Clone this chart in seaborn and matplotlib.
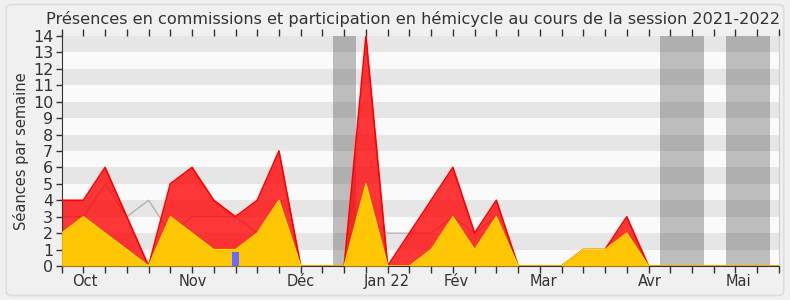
import numpy as np
import pandas as pd
import matplotlib
matplotlib.use("Agg")
import matplotlib.pyplot as plt
from matplotlib.patches import FancyBboxPatch
import seaborn as sns

# ---- data (one value per week of the session, week 0 = end of September 2021) ----
weeks = list(range(34))
hemicycle = [4, 4, 6, 3, 0, 5, 6, 4, 3, 4, 7, 0, 0, 0, 14, 0, 2, 4, 6, 2, 4, 0, 0, 0,
             1, 1, 3, 0, 0, 0, 0, 0, 0, 0]
commissions = [2, 3, 2, 1, 0, 3, 2, 1, 1, 2, 4, 0, 0, 0, 5, 0, 0, 1, 3, 1, 3, 0, 0, 0,
               1, 1, 2, 0, 0, 0, 0, 0, 0, 0]
mediane = [3, 3, 5, 3, 4, 2, 3, 3, 3, 2, 2, 0, 0, 0, 3, 2, 2, 2, 3, 2, 3, 0, 0, 0,
           1, 1, 1, 0, 0, 0, 0, 0, 0, 0]
question_weeks = [8]
question_values = [0.87]
month_labels = ["Oct", "Nov", "Déc", "Jan 22", "Fév", "Mar", "Avr", "Mai"]
month_pos = [1.06, 6.02, 10.98, 14.96, 18.14, 22.15, 27.05, 31.15]
vacances = [(12.5, 13.55), (27.55, 29.57), (30.55, 32.6)]
yticks = list(range(0, 15))

df = pd.DataFrame({"semaine": weeks, "hemicycle": hemicycle,
                   "commissions": commissions, "mediane": mediane})

sns.set_style("white")
plt.rcParams["font.family"] = ["DejaVu Sans"]

fig = plt.figure(figsize=(7.9, 3.0), dpi=100, facecolor="#f0f0f0")
border = FancyBboxPatch((0.008, 0.015), 0.984, 0.97, boxstyle="round,pad=0,rounding_size=0.01",
                        transform=fig.transFigure, facecolor="#f0f0f0",
                        edgecolor="#dddddd", linewidth=1.2, zorder=-10)
fig.patches.append(border)

ax = fig.add_axes([0.078, 0.1133, 0.908, 0.7667])
ax.set_facecolor("#fafafa")

# stripes
for i in range(1, 14, 2):
    ax.axhspan(i, i + 1, color="#e6e6e6", zorder=0, lw=0)

# vacations
for a, b in vacances:
    ax.axvspan(a, b, color="#323232", alpha=0.3, zorder=1, lw=0)

# median line (under the areas)
sns.lineplot(data=df, x="semaine", y="mediane", color="#909090", alpha=0.6, lw=1.0, ax=ax, zorder=1.5)

# areas
ax.fill_between(df["semaine"], 0, df["hemicycle"], color="#ff0000", alpha=0.78, lw=0, zorder=2)
sns.lineplot(data=df, x="semaine", y="hemicycle", color="#ff0000", lw=1.2, ax=ax, zorder=3)
ax.fill_between(df["semaine"], 0, df["commissions"], color="#ffd200", alpha=0.93, lw=0, zorder=4)
sns.lineplot(data=df, x="semaine", y="commissions", color="#ffe000", lw=1.0, ax=ax, zorder=5)

# questions
ax.bar(question_weeks, question_values, width=0.33, color="#6b6bff", zorder=7, lw=0)

ax.set_xlim(0, 33)
ax.set_ylim(0, 14)
ax.set_xticks(weeks)
ax.set_xticklabels([])
ax.set_xticks(month_pos, minor=True)
ax.set_xticklabels(month_labels, minor=True, fontsize=10.5, color="#333333")
ax.tick_params(axis="x", which="minor", length=0, pad=6)
ax.tick_params(axis="x", which="major", direction="out", length=5, width=1, color="#333333",
               top=True, bottom=True)
ax.set_yticks(yticks)
ax.set_yticklabels([str(v) for v in yticks], fontsize=11.5, color="#333333")
ax.tick_params(axis="y", direction="out", length=4, width=1, color="#333333", pad=2, left=True)
ax.set_xlabel("")
ax.set_ylabel("Séances par semaine", fontsize=10.5, color="#333333", labelpad=3)

ax.spines["top"].set_visible(False)
ax.spines["right"].set_color("#cccccc")
ax.spines["left"].set_color("#333333")
ax.spines["bottom"].set_color("#333333")

fig.text(413 / 790, 1 - 19 / 300,
         "Présences en commissions et participation en hémicycle au cours de la session 2021-2022",
         ha="center", va="center", fontsize=11.6, color="#333333")

fig.savefig("out.png", dpi=100, facecolor=fig.get_facecolor())
